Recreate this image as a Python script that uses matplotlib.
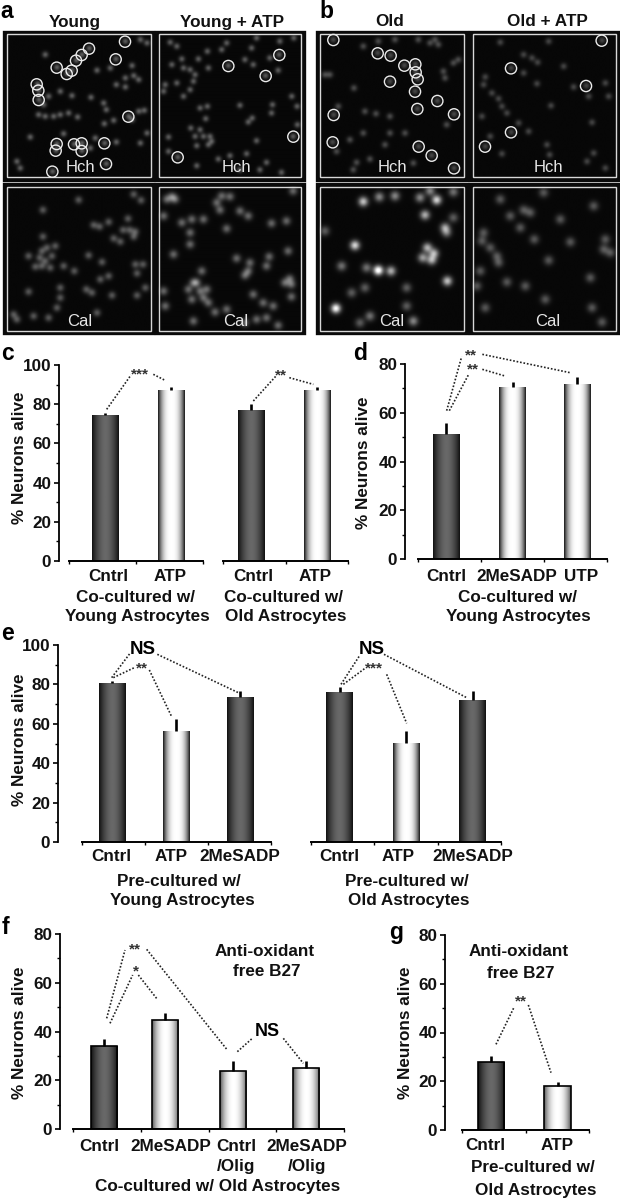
import numpy as np
import matplotlib
matplotlib.use('Agg')
import matplotlib.pyplot as plt
from matplotlib.patches import Rectangle, Circle

plt.rcParams['font.family'] = ['Liberation Sans', 'DejaVu Sans']

# ---------- bar data ----------
c1_labels = ['Cntrl', 'ATP']
c1_values = [74.3, 87.3]
c1_errors = [1.0, 1.5]
c2_labels = ['Cntrl', 'ATP']
c2_values = [77.2, 87.3]
c2_errors = [3.0, 1.5]
d_labels = ['Cntrl', '2MeSADP', 'UTP']
d_values = [51.3, 70.4, 71.6]
d_errors = [4.5, 2.1, 3.1]
e1_labels = ['Cntrl', 'ATP', '2MeSADP']
e1_values = [80.8, 56.4, 73.7]
e1_errors = [1.1, 6.0, 3.1]
e2_labels = ['Cntrl', 'ATP', '2MeSADP']
e2_values = [76.0, 50.5, 72.2]
e2_errors = [2.5, 5.8, 4.6]
f_labels = ['Cntrl', '2MeSADP', 'Cntrl\n/Olig', '2MeSADP\n/Olig']
f_values = [34.1, 44.8, 23.7, 24.9]
f_errors = [3.0, 2.6, 4.0, 2.8]
g_labels = ['Cntrl', 'ATP']
g_values = [27.9, 18.0]
g_errors = [2.5, 1.8]

# ---------- micrograph cell positions (crop coordinates) ----------
a1_cells = [(375,125),(267,146),(245,165),(228,182),(347,178),(215,212),(200,222),(170,203),(112,253),(115,272),(116,300),(135,165),(290,212),(330,205),(395,198),(375,235),(400,228),(415,240),(348,255),(375,262),(180,275),(215,288),(272,293),(145,290),(130,315),(310,310),(318,330),(115,345),(135,350),(160,350),(180,345),(205,340),(232,352),(385,350),(415,335),(432,332),(395,360),(340,362),(312,372),(90,412),(190,402),(170,432),(167,452),(222,433),(245,430),(245,453),(285,415),(313,430),(348,427),(420,430),(440,400),(270,445),(50,485),(60,505),(318,492),(157,515),(420,120),(440,130)]
a2_cells = [(510,128),(530,140),(680,130),(665,150),(622,155),(595,178),(545,178),(515,195),(550,205),(570,210),(585,225),(625,205),(685,198),(735,180),(760,195),(797,228),(838,165),(810,175),(840,125),(882,115),(770,115),(755,145),(835,212),(495,255),(490,275),(530,250),(550,290),(570,270),(580,245),(600,325),(622,320),(617,357),(720,317),(818,315),(815,340),(757,355),(745,367),(876,290),(892,320),(880,410),(893,375),(572,385),(600,390),(585,410),(610,410),(630,410),(505,412),(625,435),(590,438),(635,425),(770,423),(533,472),(505,455),(690,468),(655,478),(740,462),(800,488),(590,498),(720,510),(845,518),(780,510)]
a3_cells = [(235,602),(400,585),(422,603),(128,632),(280,677),(298,682),(325,668),(383,658),(368,692),(388,692),(405,697),(128,712),(340,717),(360,727),(400,712),(165,740),(140,745),(125,755),(85,770),(118,775),(155,770),(105,802),(125,800),(150,805),(190,800),(135,785),(305,788),(265,768),(222,815),(325,830),(300,840),(405,795),(428,795),(410,822),(435,865),(85,877),(180,865),(180,895),(258,870),(275,880),(335,888),(410,888),(170,925),(290,940),(50,960),(40,945),(145,955),(100,950)]
a4_cells = [(515,592),(500,600),(525,600),(665,590),(650,610),(690,592),(660,632),(720,635),(745,650),(880,575),(610,660),(575,660),(545,670),(570,700),(490,650),(680,688),(860,665),(815,672),(570,735),(520,765),(710,777),(865,755),(750,790),(800,800),(808,772),(745,815),(735,828),(605,815),(580,850),(600,875),(575,900),(610,895),(565,870),(620,870),(625,910),(590,850),(490,875),(495,920),(580,965),(645,938),(680,930),(760,885),(790,910),(870,838),(855,850),(875,855),(820,920),(875,892),(800,955),(770,960),(835,978),(735,970)]
b1_cells = [(70,120),(203,160),(242,167),(283,197),(316,193),(317,217),(323,238),(240,245),(315,275),(382,303),(322,327),(71,345),(432,343),(68,427),(326,440),(365,467),(432,505),(160,140),(205,125),(255,120),(325,120),(360,130),(385,135),(375,120),(445,180),(430,190),(400,215),(405,235),(132,265),(60,225),(45,225),(240,350),(198,342),(165,335),(160,400),(285,400),(410,375),(120,420),(225,435),(140,488),(180,478),(130,510),(240,400),(85,320),(80,455),(310,490)]
b2_cells = [(875,122),(603,205),(828,258),(603,397),(525,440),(570,128),(715,125),(640,165),(665,175),(682,188),(760,200),(640,220),(680,252),(790,262),(885,250),(895,290),(520,255),(525,232),(545,280),(565,297),(575,320),(590,340),(515,350),(722,318),(845,368),(655,395),(710,435),(718,465),(850,460),(575,462),(830,485),(885,505),(625,370),(540,410),(835,290)]
b3_cells = [(160,607),(208,593),(255,590),(330,595),(380,602),(360,575),(430,578),(345,647),(405,685),(410,700),(430,655),(135,738),(352,745),(372,762),(338,775),(365,782),(95,800),(205,813),(170,805),(243,815),(412,845),(165,865),(125,880),(290,865),(290,920),(78,927),(180,950),(150,970),(310,965),(45,695)]
b3_gain = [.9,.6,.6,.6,1,.6,.5,.8,.7,.5,.4,1,.8,.8,.7,.8,.5,1.3,.5,.8,.9,.4,.4,.4,.4,1.2,.5,.4,.6,.4]
b4_cells = [(570,600),(640,632),(660,640),(600,650),(520,700),(630,685),(672,720),(780,728),(885,720),(515,725),(540,745),(560,770),(565,790),(715,783),(840,835),(590,848),(645,860),(705,900),(525,925),(845,925),(875,968),(880,750),(900,760),(500,860),(510,815),(750,660),(700,580),(850,620)]

a1_rings = [(375,125),(267,146),(245,165),(228,182),(347,178),(215,212),(200,222),(170,203),(110,253),(115,272),(116,300),(385,350),(170,432),(167,452),(222,433),(245,430),(245,453),(313,430),(318,492),(157,515)]
a2_rings = [(685,198),(797,228),(838,165),(880,410),(533,472)]
b1_rings = [(70,120),(203,160),(242,167),(283,197),(316,193),(317,217),(323,238),(240,245),(315,275),(382,303),(322,327),(71,345),(432,343),(68,427),(326,440),(365,467),(432,505)]
b2_rings = [(875,122),(603,205),(828,258),(603,397),(525,440)]

W, H = 620, 1200
fig = plt.figure(figsize=(W / 100, H / 100), dpi=100, facecolor='white')
FS = 12.3


def make_bars(box, yx, ymax, step, values, errors, centers, labels, label_x, pad, styles, edge=False, show_y=True):
    left, right, ytop, y0 = box
    ax = fig.add_axes([left / W, 1 - y0 / H, (right - left) / W, (y0 - ytop) / H])
    ax.patch.set_alpha(0)
    ax.set_xlim(left, right)
    ax.set_ylim(0, ymax)
    for s in ('top', 'right'):
        ax.spines[s].set_visible(False)
    ax.spines['bottom'].set_linewidth(1.4)
    if show_y:
        ax.spines['left'].set_position(('outward', (left - yx) * 0.72))
        ax.spines['left'].set_linewidth(1.3)
        ax.set_yticks(np.arange(0, ymax + 1, step))
        ax.set_yticks(np.arange(0, ymax + 1, step / 2), minor=True)
        ax.tick_params(axis='y', which='major', length=3.5, width=1.2, labelsize=FS, pad=2)
        ax.tick_params(axis='y', which='minor', length=2, width=1)
        for t in ax.get_yticklabels():
            t.set_fontweight('bold')
            t.set_color('#111111')
    else:
        ax.spines['left'].set_visible(False)
        ax.set_yticks([])
    ax.set_xticks(label_x, labels, fontweight='bold', fontsize=FS, color='#111111', linespacing=1.4)
    ax.tick_params(axis='x', which='major', length=0, pad=pad)
    n = len(values)
    ax.set_xticks(np.linspace(left, right, n + 1), minor=True)
    ax.tick_params(axis='x', which='minor', length=2, width=1, direction='out')
    width = 26.5
    t = np.linspace(-1, 1, 64)
    for x, v, sty in zip(centers, values, styles):
        patch = ax.bar(x, v, width=width, color='none', edgecolor='black' if edge else 'none',
                       linewidth=1.2 if edge else 0, zorder=3)[0]
        if sty == 'dark':
            grad = 0.07 + 0.34 * (1 - np.abs(t) ** 1.8)
        elif sty == 'mid':
            grad = 0.35 + 0.65 * (1 - np.abs(t) ** 2.2)
        else:
            grad = 0.10 + 0.90 * (1 - np.abs(t) ** 2.6)
        im = ax.imshow(grad[None, :], cmap='gray', vmin=0, vmax=1, aspect='auto',
                       extent=(x - width / 2, x + width / 2, 0, v), zorder=2, interpolation='bilinear')
        im.set_clip_path(patch)
    ax.errorbar(centers, values, yerr=[np.zeros(n), errors], fmt='none', ecolor='black',
                elinewidth=1.9, capsize=0, zorder=4)
    ax.set_xlim(left, right)
    ax.set_ylim(0, ymax)
    return ax


make_bars((69, 203, 365, 561), 59, 100, 20, c1_values, c1_errors, [105, 171], c1_labels, [108, 170], 6, ['dark', 'light'])
make_bars((223, 348, 365, 561), 59, 100, 20, c2_values, c2_errors, [251, 317], c2_labels, [253, 315], 6, ['dark', 'light'], show_y=False)
make_bars((418, 607, 364, 559), 405, 80, 20, d_values, d_errors, [446, 512.5, 577], d_labels, [446, 517, 581], 7, ['dark', 'light', 'light'])
make_bars((82, 271, 645, 842), 58, 100, 20, e1_values, e1_errors, [112, 176, 240], e1_labels, [111, 171, 240], 5, ['dark', 'light', 'dark'])
make_bars((311, 501, 645, 842), 58, 100, 20, e2_values, e2_errors, [339.5, 406, 472.5], e2_labels, [339, 398, 473], 5, ['dark', 'light', 'dark'], show_y=False)
make_bars((73, 344, 934, 1129), 60, 80, 20, f_values, f_errors, [104, 165, 233, 306], f_labels, [99, 171, 236, 307], 7, ['dark', 'mid', 'mid', 'mid'], edge=True)
make_bars((462, 589, 935, 1130), 445, 80, 20, g_values, g_errors, [491, 557.5], g_labels, [485, 557], 6, ['dark', 'mid'], edge=True)

# ---------- overlay in reference pixels ----------
ov = fig.add_axes([0, 0, 1, 1], zorder=10)
ov.patch.set_alpha(0)
ov.axis('off')


def Z(ox, oy, x, y):
    return ox + x / 3, oy + y / 3


def micro(ox, x0, x1, y0, y1, cells, rad, level, gain=None, rings=None):
    px0, py0 = Z(ox, 0, x0, y0)
    px1, py1 = Z(ox, 0, x1, y1)
    nx, ny = int(round((px1 - px0) * 2)), int(round((py1 - py0) * 2))
    X, Y = np.meshgrid(np.linspace(x0, x1, nx), np.linspace(y0, y1, ny))
    img = np.full((ny, nx), 0.03)
    for i, (cx, cy) in enumerate(cells):
        g = 1 if gain is None else gain[i]
        img += level * g * np.exp(-((X - cx) ** 2 + (Y - cy) ** 2) / (2 * rad ** 2))
    ov.imshow(np.clip(img, 0, 1), cmap='gray', vmin=0, vmax=1, aspect='auto',
              extent=(px0, px1, py1, py0), interpolation='bilinear', zorder=1)
    ov.add_patch(Rectangle((px0, py0), px1 - px0, py1 - py0, fill=False, ec='#0a0a0a', lw=2.4, zorder=3))
    ins = 2.6
    ov.add_patch(Rectangle((px0 + ins, py0 + ins), px1 - px0 - 2 * ins, py1 - py0 - 2 * ins,
                           fill=False, ec='#d8d8d8', lw=1.0, zorder=3))
    for cx, cy in rings or []:
        ov.add_patch(Circle(Z(ox, 0, cx, cy), 5.6, fill=False, ec='#ececec', lw=1.0, zorder=4))


micro(0, 12, 460, 95, 540, a1_cells, 6.5, 0.33, rings=a1_rings)
micro(0, 468, 912, 95, 540, a2_cells, 6.5, 0.32, rings=a2_rings)
micro(0, 12, 460, 552, 1000, a3_cells, 8, 0.30)
micro(0, 468, 912, 552, 1000, a4_cells, 9, 0.36)
micro(310, 22, 470, 95, 540, b1_cells, 7, 0.25, rings=b1_rings)
micro(310, 480, 925, 95, 540, b2_cells, 7, 0.23, rings=b2_rings)
micro(310, 22, 470, 552, 1000, b3_cells, 10, 0.80, gain=b3_gain)
micro(310, 480, 925, 552, 1000, b4_cells, 10, 0.30)


def txt(x, y, s, size=FS, weight='bold', color='#111111', **kw):
    ov.text(x, y, s, fontsize=size, fontweight=weight, color=color, ha='center', va='center', zorder=6, **kw)


def dots(ox, oy, *segs):
    for (x0, y0, x1, y1) in segs:
        a, b = Z(ox, oy, x0, y0), Z(ox, oy, x1, y1)
        ov.plot([a[0], b[0]], [a[1], b[1]], color='#222222', lw=1.2, ls=(0, (1, 1.1)), zorder=5)


for x, y, s in [(7, 12, 'a'), (326, 11, 'b'), (7, 354, 'c'), (360, 353, 'd'), (7, 634, 'e'), (5, 928, 'f'), (396, 932, 'g')]:
    txt(x, y, s, size=16.5, color='black')
for x, y, s in [(75, 22, 'Young'), (232, 22, 'Young + ATP'), (390, 22, 'Old'), (547, 22, 'Old + ATP')]:
    txt(x, y, s)
for x, s, y in [(80, 'Hch', 168), (236, 'Hch', 168), (392, 'Hch', 168), (548, 'Hch', 168),
                (80, 'Cal', 321), (236, 'Cal', 321), (392, 'Cal', 321), (548, 'Cal', 321)]:
    txt(x, y, s, size=12, weight='normal', color='#e6e6e6')

for x, y in [(20, 458), (363, 463), (20, 740), (20, 1033), (405, 1033)]:
    txt(x, y, '% Neurons alive', size=12.3, rotation=90)

for x, y, s in [(136, 597, 'Co-cultured w/'), (137, 617, 'Young Astrocytes'), (283, 597, 'Co-cultured w/'), (286, 617, 'Old Astrocytes'),
                (517, 597, 'Co-cultured w/'), (518, 617, 'Young Astrocytes'),
                (179, 881, 'Pre-cultured w/'), (182, 901, 'Young Astrocytes'), (407, 881, 'Pre-cultured w/'), (409, 901, 'Old Astrocytes'),
                (218, 1187, 'Co-cultured w/ Old Astrocytes'), (533, 1168, 'Pre-cultured w/'), (536, 1190, 'Old Astrocytes'),
                (265, 952, 'Anti-oxidant'), (267, 972, 'free B27'), (519, 952, 'Anti-oxidant'), (521, 973, 'free B27')]:
    txt(x, y, s, size=12.3)

dots(0, 340, (320, 208, 393, 105), (460, 103, 497, 122))
txt(140, 374, '***', size=11, color='#333333')
dots(200, 340, (160, 183, 228, 108), (268, 113, 340, 133))
txt(281, 375, '**', size=11, color='#333333')
dots(320, 340, (380, 212, 425, 50), (388, 212, 445, 105), (487, 43, 750, 98), (487, 88, 555, 108))
txt(471, 355, '**', size=11, color='#333333')
txt(473, 369, '**', size=11, color='#333333')
dots(0, 625, (335, 158, 390, 85), (340, 158, 405, 127), (448, 135, 515, 275), (472, 88, 715, 203))
txt(143, 650, 'NS', size=13.5, color='black')
txt(142, 668, '**', size=11, color='#333333')
dots(280, 625, (183, 178, 240, 90), (190, 178, 255, 130), (320, 148, 380, 295), (312, 88, 560, 218))
txt(372, 650, 'NS', size=13.5, color='black')
txt(374, 668, '***', size=11, color='#333333')
dots(0, 900, (320, 355, 375, 150), (330, 370, 398, 225), (415, 225, 472, 298), (440, 148, 682, 450), (712, 455, 757, 415), (850, 415, 910, 490))
txt(135, 949, '**', size=11, color='#333333')
txt(136, 971, '*', size=11, color='#333333')
txt(267, 1032, 'NS', size=13, color='black')
dots(380, 910, (348, 403, 403, 290), (445, 285, 513, 488))
txt(521, 1001, '**', size=11, color='#333333')

ov.set_xlim(0, W)
ov.set_ylim(H, 0)
fig.savefig('out.png', dpi=100, facecolor='white')
